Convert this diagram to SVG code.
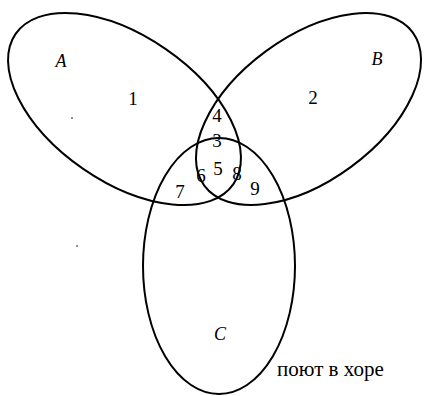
<svg xmlns="http://www.w3.org/2000/svg" width="424" height="396" viewBox="0 0 424 396">
<style>
.sh{fill:none;stroke:#000;stroke-width:2}
.n{font-family:"Liberation Serif","Times New Roman",serif;font-size:19px;fill:#000;text-anchor:middle}
.l{font-family:"Liberation Serif","Times New Roman",serif;font-size:18px;font-style:italic;fill:#000;text-anchor:middle}
.t{font-family:"Liberation Serif","Times New Roman",serif;font-size:21px;fill:#000}
</style>
<rect width="424" height="396" fill="#fff"/>
<g id="setA">
<ellipse class="sh" cx="124.5" cy="109" rx="132.3" ry="72.7" transform="rotate(34.6 124.5 109)"/>
<text class="l" x="61" y="67">A</text>
</g>
<g id="setB">
<ellipse class="sh" cx="308.5" cy="109" rx="129.3" ry="71.8" transform="rotate(-36.3 308.5 109)"/>
<text class="l" x="377" y="65">B</text>
</g>
<g id="setC">
<ellipse class="sh" cx="219" cy="266" rx="76" ry="128"/>
<text class="l" x="220" y="340">C</text>
</g>
<g id="regions">
<text class="n" x="133" y="105">1</text>
<text class="n" x="313" y="103.5">2</text>
<text class="n" x="217" y="146.5">3</text>
<text class="n" x="217" y="121.5">4</text>
<text class="n" x="218" y="175">5</text>
<text class="n" x="201" y="181.5">6</text>
<text class="n" x="180" y="198">7</text>
<text class="n" x="237" y="180">8</text>
<text class="n" x="255" y="195">9</text>
</g>
<g id="caption">
<text class="t" x="277" y="376">поют в хоре</text>
</g>
<g id="specks" fill="#000">
<circle cx="72" cy="118" r="0.8"/>
<circle cx="77" cy="246" r="0.8"/>
</g>
</svg>
